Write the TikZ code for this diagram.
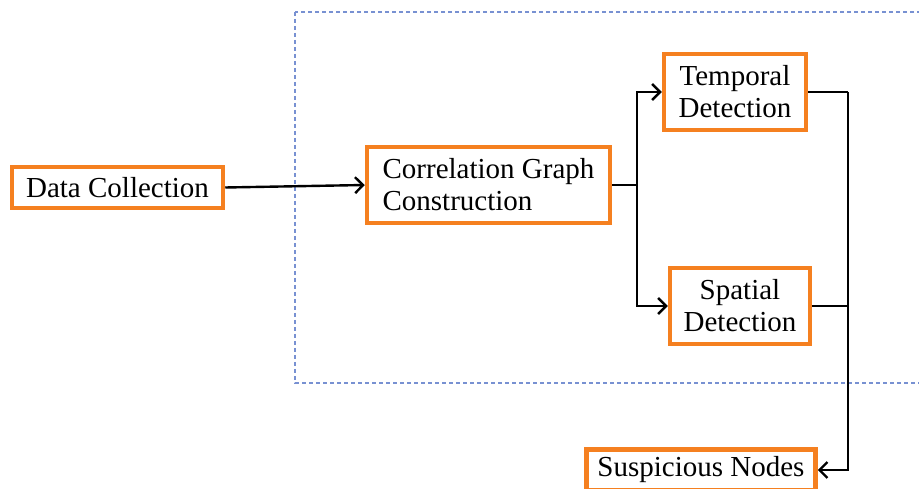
\documentclass[tikz,border=0pt]{standalone}
\usepackage{fontspec}
\setmainfont{Liberation Serif}
\usetikzlibrary{positioning}
\usetikzlibrary{arrows.meta}
\definecolor{boxorange}{RGB}{245,128,32}
\definecolor{framegray}{RGB}{120,145,210}
\tikzset{
    mybox/.style = {rectangle, line width=4.5pt, draw=boxorange, align=center, fill=white, font=\fontsize{29}{32}\selectfont, text=black, inner xsep=10pt, inner ysep=6pt, minimum height=41pt},
    myboxt/.style = {mybox, minimum height=76pt},
    myboxl/.style = {myboxt, align=left},
    edgen/.style = {-, line width=2.4pt, black},
    edgea/.style = {-{Straight Barb[length=8pt,width=16pt]}, line width=2.4pt, black},
    framed/.style = {line width=1.2pt, framegray, dash pattern=on 4pt off 3pt}
}

\begin{document}
\begin{tikzpicture}[x=1pt,y=-1pt]
\clip (0,0) rectangle (919,489);
%
\draw[framed] (295,12) rectangle (930,383);
%
\node[mybox, minimum width=211pt] at (117.5,187.5) (dc) {Data Collection};
\node[myboxl, minimum width=243pt] at (488.5,185) (cg) {Correlation Graph\\Construction};
\node[myboxt, minimum width=142pt] at (735,92) (td) {Temporal\\Detection};
\node[myboxt, minimum width=140pt] at (740,306) (sd) {Spatial\\Detection};
\node[mybox, minimum width=229pt] at (701,470) (sn) {Suspicious Nodes};
\coordinate (j) at (848,92);
%
\draw[edgea] (dc.east) -- (cg.west);
\draw[edgea] (cg.east) -- ++(25,0) |- (td.west);
\draw[edgea] (cg.east) -- ++(25,0) |- (sd.west);
\draw[edgen] (td.east) -- (j);
\draw[edgen] (sd.east) -- (sd.east -| j);
\draw[edgea] (j) |- (sn.east);
\end{tikzpicture}
\end{document}
